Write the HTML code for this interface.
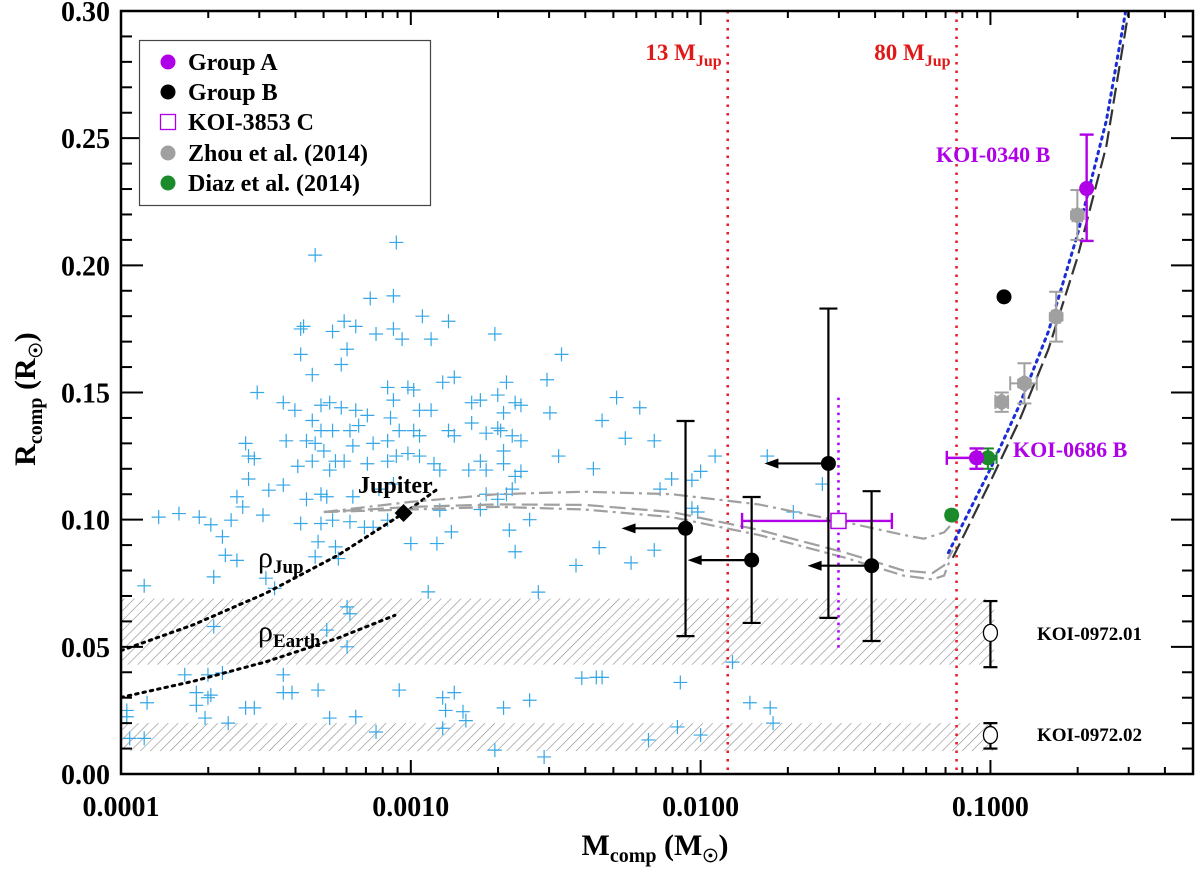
<!DOCTYPE html>
<html><head><meta charset="utf-8"><title>Rcomp vs Mcomp</title>
<style>
html,body{margin:0;padding:0;background:#fff;}
svg{display:block;font-family:"Liberation Serif","DejaVu Serif",serif;font-weight:bold;}
</style></head>
<body>
<svg id="chart" width="1200" height="871" viewBox="0 0 1200 871" xmlns="http://www.w3.org/2000/svg">
<defs>
<pattern id="hatch" patternUnits="userSpaceOnUse" width="7" height="7" patternTransform="rotate(45)">
<line x1="0" y1="0" x2="0" y2="7" stroke="#8a8a8a" stroke-width="1.2"/>
</pattern>
<clipPath id="plotclip"><rect x="121" y="11" width="1072" height="763"/></clipPath>
</defs>
<g id="bands" clip-path="url(#plotclip)"></g>
<g id="marks" clip-path="url(#plotclip)"></g>
<g id="axes"></g>
<g id="labels"></g>
</svg>
<script>
// ---------- data ----------
const xTickValues=[0.0001,0.001,0.01,0.1];
const xTickLabels=["0.0001","0.0010","0.0100","0.1000"];
const yTickValues=[0,0.05,0.10,0.15,0.20,0.25,0.30];
const yTickLabels=["0.00","0.05","0.10","0.15","0.20","0.25","0.30"];
// exoplanet scatter (log10 mass, radius)
const planetLogM=[-3.05,-3.33,-3.14,-3.06,-2.96,-2.87,-2.71,-3.38,-3.37,-3.27,-3.23,-3.19,-3.12,-3.06,-3.03,-2.93,-3.38,-3.22,-3.24,-3.34,-2.85,-2.89,-3.53,-3.44,-3.40,-3.31,-3.28,-3.24,-3.19,-3.15,-3.08,-3.01,-2.99,-3.06,-3.07,-2.97,-2.93,-2.79,-2.76,-2.70,-2.67,-2.68,-2.64,-3.34,-3.31,-3.27,-3.21,-3.18,-3.13,-3.08,-3.04,-2.99,-2.97,-2.87,-2.85,-2.79,-2.74,-2.69,-2.65,-3.43,-3.36,-3.33,-3.30,-3.26,-3.23,-3.20,-3.15,-3.08,-3.05,-3.01,-2.97,-2.92,-2.90,-2.80,-2.76,-2.74,-2.68,-2.64,-3.57,-3.56,-3.54,-3.39,-3.34,-3.28,-3.56,-3.44,-3.49,-3.60,-3.58,-3.31,-3.36,-3.29,-3.20,-3.11,-3.06,-2.90,-2.74,-2.70,-2.67,-3.51,-3.62,-3.73,-3.69,-3.80,-3.87,-3.38,-3.31,-3.27,-3.21,-3.16,-3.13,-3.08,-3.65,-3.64,-3.60,-3.68,-3.92,-3.50,-3.47,-3.32,-3.26,-3.33,-3.25,-3.00,-2.91,-2.86,-2.66,-2.94,-2.64,
-2.48,-2.52,-2.62,-2.70,-2.34,-2.26,-2.29,-2.21,-2.16,-1.95,-1.77,-2.10,-2.03,-2.00,-2.14,-2.03,-2.01,-1.68,-1.58,-2.16,-2.24,-2.34,-2.07,-1.89,-1.83,-1.76,-1.75,-2.08,-2.00,-2.18,-2.53,-2.62,-2.68,-2.49,-2.37,-2.62,-2.65,-2.76,-2.59,-2.35,-2.43,-2.56,
-3.68,-3.22,-3.21,-3.29,-3.22,-3.78,-3.70,-3.65,-3.44,-3.74,-3.69,-3.70,-3.91,-3.74,-3.44,-3.41,-3.32,-3.04,-2.89,-2.85,-2.88,-2.82,-2.68,-2.59,-2.41,-2.36,-3.57,-3.54,-3.71,-3.63,-3.28,-3.19,-3.12,-2.89,-2.81,-2.71,-2.54,-3.98,-3.98,-3.97,-3.92];
const planetR=[0.209,0.204,0.187,0.188,0.180,0.178,0.173,0.175,0.176,0.174,0.178,0.176,0.173,0.175,0.171,0.171,0.165,0.167,0.161,0.157,0.156,0.154,0.150,0.146,0.143,0.145,0.146,0.144,0.143,0.141,0.152,0.152,0.151,0.147,0.140,0.143,0.143,0.146,0.147,0.149,0.154,0.142,0.146,0.139,0.135,0.135,0.135,0.137,0.130,0.131,0.135,0.135,0.133,0.135,0.133,0.138,0.134,0.135,0.133,0.131,0.131,0.130,0.127,0.123,0.123,0.129,0.122,0.123,0.125,0.126,0.125,0.122,0.1195,0.1195,0.123,0.1195,0.122,0.117,0.130,0.125,0.124,0.121,0.123,0.1195,0.116,0.1136,0.1116,0.109,0.105,0.110,0.108,0.109,0.109,0.112,0.114,0.1037,0.110,0.108,0.110,0.1018,0.0998,0.101,0.098,0.1024,0.101,0.0985,0.0985,0.0998,0.0992,0.097,0.097,0.0998,0.0933,0.086,0.084,0.0775,0.074,0.077,0.073,0.0913,0.0893,0.0854,0.0847,0.0906,0.0906,0.0952,0.0959,0.0716,0.0874,
0.165,0.142,0.145,0.136,0.139,0.132,0.148,0.144,0.131,0.125,0.125,0.116,0.1155,0.119,0.112,0.1045,0.103,0.103,0.114,0.088,0.083,0.038,0.036,0.044,0.028,0.026,0.020,0.0185,0.0153,0.0134,0.155,0.131,0.127,0.125,0.120,0.119,0.112,0.104,0.100,0.089,0.082,0.0715,
0.058,0.0657,0.063,0.0566,0.050,0.039,0.039,0.0397,0.039,0.032,0.031,0.030,0.028,0.027,0.032,0.032,0.033,0.033,0.030,0.032,0.025,0.0245,0.026,0.029,0.0377,0.038,0.026,0.026,0.022,0.020,0.022,0.0225,0.0165,0.018,0.021,0.0094,0.0067,0.025,0.0225,0.014,0.014];
// Group A
const groupAMass=[0.0895,0.2148];
const groupAR=[0.1243,0.2302];
const groupARlo=[0.120,0.2096];
const groupARhi=[0.128,0.2514];
const groupAMlo=[0.0707,0.2148];
const groupAMhi=[0.092,0.2148];
// Group B
const groupBMass=[0.00887,0.0150,0.0276,0.0389,0.1114];
const groupBR=[0.0966,0.0841,0.1221,0.0819,0.1876];
const groupBRlo=[0.0542,0.0594,0.0614,0.0523,null];
const groupBRhi=[0.1388,0.1089,0.183,0.1112,null];
const groupBUpperLimit=[1,1,1,1,0];
// KOI-3853 C
const koi3853Mass=[0.0299];
const koi3853R=[0.0995];
const koi3853Mlo=[0.0139];
const koi3853Mhi=[0.0457];
// Zhou et al. (2014)
const zhouMass=[0.1094,0.131,0.1686,0.1995];
const zhouR=[0.1463,0.1536,0.1798,0.2197];
const zhouRlo=[0.1424,0.1457,0.170,0.210];
const zhouRhi=[0.150,0.1615,0.1896,0.2296];
const zhouMlo=[0.104,0.117,0.163,0.192];
const zhouMhi=[0.115,0.1445,0.174,0.207];
// Diaz et al. (2014)
const diazMass=[0.0735,0.098];
const diazR=[0.1018,0.1243];
const diazRlo=[0.1000,0.120];
const diazRhi=[0.1036,0.128];
const diazMlo=[0.0735,0.090];
const diazMhi=[0.0735,0.105];
// KOI-0972
const koi972Mass=[0.1,0.1];
const koi972R=[0.0555,0.0153];
const koi972Rlo=[0.042,0.010];
const koi972Rhi=[0.068,0.020];
// Jupiter
const jupiterMass=[0.000944];
const jupiterR=[0.1026];
// constant density curves
const rhoJupLogM=[-4,-3.75,-3.5,-3.25,-3.0,-2.9];
const rhoJupR=[0.0485,0.0587,0.0711,0.0861,0.1044,0.1127];
const rhoEarthLogM=[-4,-3.75,-3.5,-3.25,-3.055];
const rhoEarthR=[0.0301,0.0365,0.0441,0.0535,0.0624];
// model curves
const modelUpperLogM=[-3.30,-3.0,-2.7,-2.4,-2.1,-1.8,-1.5,-1.3,-1.23,-1.16,-1.12];
const modelUpperR=[0.103,0.107,0.110,0.111,0.110,0.106,0.099,0.094,0.0925,0.095,0.100];
const modelDashLogM=[-3.30,-3.0,-2.7,-2.4,-2.1,-1.8,-1.5,-1.3,-1.2,-1.16,-1.13];
const modelDashR=[0.103,0.105,0.106,0.1058,0.103,0.096,0.087,0.080,0.079,0.082,0.088];
const modelLowerLogM=[-3.30,-3.0,-2.7,-2.4,-2.1,-1.8,-1.5,-1.3,-1.2,-1.16,-1.14];
const modelLowerR=[0.103,0.104,0.105,0.104,0.101,0.094,0.085,0.078,0.0765,0.078,0.084];
const relBlueLogM=[-1.145,-1.0,-0.9,-0.8,-0.7,-0.6,-0.53];
const relBlueR=[0.087,0.120,0.145,0.174,0.212,0.257,0.302];
const relDashLogM=[-1.13,-1.0,-0.9,-0.8,-0.7,-0.6,-0.52];
const relDashR=[0.085,0.115,0.139,0.167,0.203,0.247,0.302];
// limits & bands
const limitMass=[0.0124,0.0764];
const limitLabel=["13 M","80 M"];
const bandLo=[0.043,0.009];
const bandHi=[0.069,0.020];
const bandMaxMass=0.103;

// ---------- axes ----------
const X0=121,X1=1193,Y0=774,Y1=11;
const LMIN=-4,LMAX=Math.log10(0.5),RMIN=0,RMAX=0.30;
function xl(l){return X0+(l-LMIN)/(LMAX-LMIN)*(X1-X0);}
function xm(m){return xl(Math.log10(m));}
function yr(r){return Y0-(r-RMIN)/(RMAX-RMIN)*(Y0-Y1);}
const NS="http://www.w3.org/2000/svg";
function mk(parent,tag,attrs,name,inter){
  const el=document.createElementNS(NS,tag);
  for(const k in attrs) el.setAttribute(k,attrs[k]);
  
  
  parent.appendChild(el);return el;
}
const gB=document.getElementById('bands'),gM=document.getElementById('marks'),gA=document.getElementById('axes'),gL=document.getElementById('labels');

for(let i=0;i<bandLo.length;i++){
  mk(gB,'rect',{x:X0,y:yr(bandHi[i]),width:xm(bandMaxMass)-X0,height:yr(bandLo[i])-yr(bandHi[i]),fill:'url(#hatch)'},'hatched-band-'+(i+1),false);
}
for(let i=0;i<planetLogM.length;i++){
  const x=xl(planetLogM[i]),y=yr(planetR[i]);
  mk(gM,'path',{d:`M${x-7},${y}H${x+7}M${x},${y-7}V${y+7}`,stroke:'#35a6e6','stroke-width':1.2,fill:'none'},'exoplanet-cross',false);
}
function line(g,lx,ry,attrs,name){
  let d='';for(let i=0;i<lx.length;i++) d+=(i?'L':'M')+xl(lx[i]).toFixed(1)+','+yr(ry[i]).toFixed(1);
  return mk(g,'path',Object.assign({d:d,fill:'none'},attrs),name,false);
}
for(let i=0;i<limitMass.length;i++){
  const x=xm(limitMass[i]);
  mk(gM,'line',{x1:x,y1:Y1,x2:x,y2:Y0,stroke:'#e8202a','stroke-width':2.6,'stroke-dasharray':'2.5 6'},'limit-line-'+(i?'80mjup':'13mjup'),false);
}
line(gM,rhoJupLogM,rhoJupR,{stroke:'#000','stroke-width':3,'stroke-dasharray':'2.5 5','stroke-linecap':'round'},'rho-jupiter-curve');
line(gM,rhoEarthLogM,rhoEarthR,{stroke:'#000','stroke-width':3,'stroke-dasharray':'2.5 5','stroke-linecap':'round'},'rho-earth-curve');
line(gM,modelUpperLogM,modelUpperR,{stroke:'#a0a0a0','stroke-width':2.2,'stroke-dasharray':'14 5 3 5'},'model-curve-upper');
line(gM,modelDashLogM,modelDashR,{stroke:'#a0a0a0','stroke-width':2.2,'stroke-dasharray':'16 6'},'model-curve-dashed');
line(gM,modelLowerLogM,modelLowerR,{stroke:'#a0a0a0','stroke-width':2.2,'stroke-dasharray':'14 5 3 5'},'model-curve-lower');
line(gM,relDashLogM,relDashR,{stroke:'#333','stroke-width':2.2,'stroke-dasharray':'16 6'},'stellar-relation-dashed');
line(gM,relBlueLogM,relBlueR,{stroke:'#1a2ed8','stroke-width':3,'stroke-dasharray':'2.5 5','stroke-linecap':'round'},'stellar-relation-dotted');
{const x=xm(koi3853Mass[0]);mk(gM,'line',{x1:x,y1:yr(0.148),x2:x,y2:yr(0.0495),stroke:'#b000ff','stroke-width':2.6,'stroke-dasharray':'2.5 5'},'koi-3853-limit-line',false);}
function ebar(g,x1,y1,x2,y2,col,w,cap,name,vertical){
  mk(g,'line',{x1:x1,y1:y1,x2:x2,y2:y2,stroke:col,'stroke-width':w},name,false);
  if(vertical){
    mk(g,'line',{x1:x1-cap,y1:y1,x2:x1+cap,y2:y1,stroke:col,'stroke-width':w},name+'-cap',false);
    mk(g,'line',{x1:x2-cap,y1:y2,x2:x2+cap,y2:y2,stroke:col,'stroke-width':w},name+'-cap',false);
  }else{
    mk(g,'line',{x1:x1,y1:y1-cap,x2:x1,y2:y1+cap,stroke:col,'stroke-width':w},name+'-cap',false);
    mk(g,'line',{x1:x2,y1:y2-cap,x2:x2,y2:y2+cap,stroke:col,'stroke-width':w},name+'-cap',false);
  }
}
for(let i=0;i<zhouMass.length;i++){
  const x=xm(zhouMass[i]),y=yr(zhouR[i]);
  ebar(gM,x,yr(zhouRhi[i]),x,yr(zhouRlo[i]),'#a0a0a0',2,7,'zhou-yerr',true);
  ebar(gM,xm(zhouMlo[i]),y,xm(zhouMhi[i]),y,'#a0a0a0',2,7,'zhou-xerr',false);
  let pts='';for(let k=0;k<6;k++){const a=Math.PI/6+k*Math.PI/3;pts+=(x+8.5*Math.cos(a)).toFixed(1)+','+(y+8.5*Math.sin(a)).toFixed(1)+' ';}
  mk(gM,'polygon',{points:pts,fill:'#a0a0a0'},'zhou-point',false);
}
for(let i=0;i<diazMass.length;i++){
  const x=xm(diazMass[i]),y=yr(diazR[i]);
  ebar(gM,x,yr(diazRhi[i]),x,yr(diazRlo[i]),'#1a8a2a',2,6,'diaz-yerr',true);
  if(diazMhi[i]>diazMlo[i]) ebar(gM,xm(diazMlo[i]),y,xm(diazMhi[i]),y,'#1a8a2a',2,6,'diaz-xerr',false);
  mk(gM,'circle',{cx:x,cy:y,r:7.5,fill:'#1a8a2a'},'diaz-point',false);
}
for(let i=0;i<groupAMass.length;i++){
  const x=xm(groupAMass[i]),y=yr(groupAR[i]);
  ebar(gM,x,yr(groupARhi[i]),x,yr(groupARlo[i]),'#b000e8',2.4,7,'group-a-yerr',true);
  if(groupAMhi[i]>groupAMlo[i]) ebar(gM,xm(groupAMlo[i]),y,xm(groupAMhi[i]),y,'#b000e8',2.4,7,'group-a-xerr',false);
  mk(gM,'circle',{cx:x,cy:y,r:7.5,fill:'#b000e8'},'group-a-point',true);
}
{const x=xm(koi3853Mass[0]),y=yr(koi3853R[0]);
 ebar(gM,xm(koi3853Mlo[0]),y,xm(koi3853Mhi[0]),y,'#b000e8',2.4,8,'koi-3853-xerr',false);
 mk(gM,'rect',{x:x-7.5,y:y-7.5,width:15,height:15,fill:'#fff',stroke:'#b000e8','stroke-width':1.5},'koi-3853-point',true);}
for(let i=0;i<groupBMass.length;i++){
  const x=xm(groupBMass[i]),y=yr(groupBR[i]);
  if(groupBRhi[i]!==null) ebar(gM,x,yr(groupBRhi[i]),x,yr(groupBRlo[i]),'#000',2.2,9,'group-b-yerr',true);
  if(groupBUpperLimit[i]){
    mk(gM,'line',{x1:x,y1:y,x2:x-52,y2:y,stroke:'#000','stroke-width':2.2},'upper-limit-arrow',false);
    mk(gM,'polygon',{points:`${x-64},${y} ${x-50},${y-5} ${x-50},${y+5}`,fill:'#000'},'upper-limit-arrowhead',false);
  }
  mk(gM,'circle',{cx:x,cy:y,r:7.5,fill:'#000'},'group-b-point',true);
}
for(let i=0;i<koi972Mass.length;i++){
  const x=xm(koi972Mass[i]),y=yr(koi972R[i]);
  ebar(gM,x,yr(koi972Rhi[i]),x,yr(koi972Rlo[i]),'#000',2.2,7,'koi-0972-yerr',true);
  mk(gM,'ellipse',{cx:x,cy:y,rx:7,ry:8.5,fill:'#fff',stroke:'#000','stroke-width':1.3},'koi-0972-point',true);
}
{const x=xm(jupiterMass[0]),y=yr(jupiterR[0]);
 mk(gM,'polygon',{points:`${x},${y-9} ${x+9},${y} ${x},${y+9} ${x-9},${y}`,fill:'#000'},'jupiter-marker',false);}

mk(gA,'rect',{x:X0,y:Y1,width:X1-X0,height:Y0-Y1,fill:'none',stroke:'#000','stroke-width':2.5},'plot-frame',false);
for(let e=-4;e<=-1;e++){
  for(let k=1;k<=9;k++){
    const v=k*Math.pow(10,e); if(v>0.5001) break;
    const x=xm(v),len=k===1?14:7;
    mk(gA,'line',{x1:x,y1:Y0,x2:x,y2:Y0-len,stroke:'#000','stroke-width':2},'x-tick',false);
    mk(gA,'line',{x1:x,y1:Y1,x2:x,y2:Y1+len,stroke:'#000','stroke-width':2},'x-tick-top',false);
  }
}
for(let i=0;i<xTickValues.length;i++){
  const t=mk(gA,'text',{x:xm(xTickValues[i]),y:816,'text-anchor':'middle','font-size':28},'x-tick-label',false);
  t.textContent=xTickLabels[i];
}
for(let j=0;j<=30;j++){
  const v=j/100,y=yr(v),len=(j%5===0)?22:11;
  mk(gA,'line',{x1:X0,y1:y,x2:X0+len,y2:y,stroke:'#000','stroke-width':2},'y-tick',false);
  mk(gA,'line',{x1:X1,y1:y,x2:X1-len,y2:y,stroke:'#000','stroke-width':2},'y-tick-right',false);
}
for(let i=0;i<yTickValues.length;i++){
  const t=mk(gA,'text',{x:110,y:yr(yTickValues[i])+10,'text-anchor':'end','font-size':28},'y-tick-label',false);
  t.textContent=yTickLabels[i];
}
for(let i=0;i<limitMass.length;i++){
  const t=mk(gL,'text',{x:xm(limitMass[i])-6,y:60,'text-anchor':'end','font-size':23,fill:'#e01818'},'limit-label',false);
  t.textContent=limitLabel[i];
  const s=document.createElementNS(NS,'tspan');s.setAttribute('font-size','16');s.setAttribute('dy','6');s.textContent='Jup';t.appendChild(s);
}
</script>
<script>
const L=document.getElementById('labels');
L.insertAdjacentHTML('beforeend',`
<text x="655" y="855" text-anchor="middle" font-size="30">M<tspan font-size="20" dy="7">comp</tspan><tspan dy="-7"> (M</tspan><tspan font-size="18" dy="7">☉</tspan><tspan dy="-7">)</tspan></text>
<text transform="translate(35,399) rotate(-90)" text-anchor="middle" font-size="30">R<tspan font-size="20" dy="7">comp</tspan><tspan dy="-7"> (R</tspan><tspan font-size="18" dy="7">☉</tspan><tspan dy="-7">)</tspan></text>
<text x="358" y="493" font-size="24">Jupiter</text>
<text x="258" y="567" font-size="30" font-weight="normal">ρ<tspan font-size="19" font-weight="bold" dy="6">Jup</tspan></text>
<text x="258" y="641" font-size="30" font-weight="normal">ρ<tspan font-size="19" font-weight="bold" dy="6">Earth</tspan></text>
<text x="936" y="162" font-size="22" fill="#b000e8">KOI-0340 B</text>
<text x="1013" y="457" font-size="22" fill="#b000e8">KOI-0686 B</text>
<text x="1037" y="640" font-size="19">KOI-0972.01</text>
<text x="1037" y="741" font-size="19">KOI-0972.02</text>
<g>
<rect x="139.5" y="40.5" width="291" height="165" fill="#fff" stroke="#444" stroke-width="1.2"/>
<circle cx="168" cy="62" r="7.5" fill="#b000e8"/>
<text x="188" y="70" font-size="24">Group A</text>
<circle cx="168" cy="92" r="7.5" fill="#000"/>
<text x="188" y="100" font-size="24">Group B</text>
<rect x="160.5" y="114.5" width="15" height="15" fill="#fff" stroke="#b000e8" stroke-width="1.3"/>
<text x="188" y="130" font-size="24">KOI-3853 C</text>
<circle cx="168" cy="153" r="7.5" fill="#a0a0a0"/>
<text x="188" y="161" font-size="24">Zhou et al. (2014)</text>
<circle cx="168" cy="183" r="7.5" fill="#1a8a2a"/>
<text x="188" y="191" font-size="24">Diaz et al. (2014)</text>
</g>`);
</script>
</body></html>
